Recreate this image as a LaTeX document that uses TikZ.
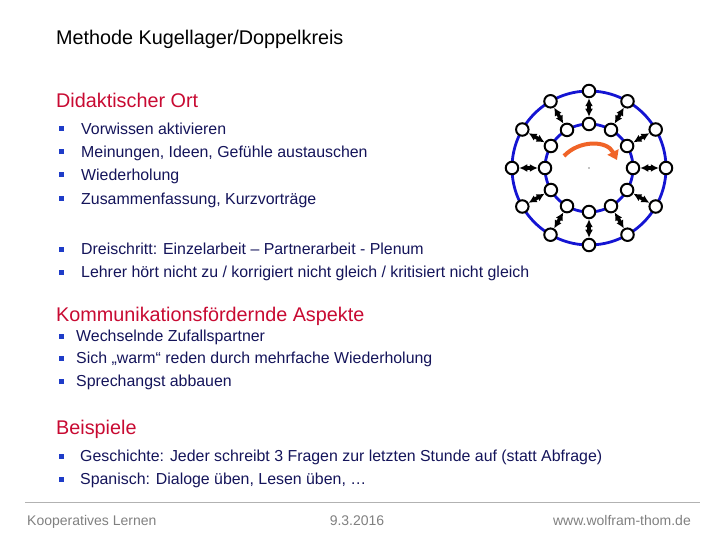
\documentclass[tikz,border=0pt]{standalone}
\usepackage{fontspec}
\setmainfont{Liberation Sans}
\usetikzlibrary{arrows.meta,calc}
\definecolor{navy}{RGB}{20,20,90}
\definecolor{head}{RGB}{200,10,50}
\definecolor{bul}{RGB}{30,60,200}
\definecolor{ora}{RGB}{240,100,40}
\definecolor{ring}{RGB}{20,20,210}
\begin{document}
\begin{tikzpicture}[x=1pt,y=-1pt,
  txt/.style={anchor=base west,inner sep=0,text=navy,font=\fontsize{15.9}{18}\selectfont},
  hd/.style={anchor=base west,inner sep=0,text=head,font=\fontsize{19.8}{22}\selectfont},
  ft/.style={inner sep=0,text=gray,font=\fontsize{14}{16}\selectfont},
  bl/.style={fill=bul,minimum size=5pt,inner sep=0},
  pers/.style={circle,draw=black,fill=white,line width=2pt,minimum size=12.5pt,inner sep=0},
  pair/.style={{Latex[length=8pt,width=8pt]}-{Latex[length=8pt,width=8pt]},line width=3.5pt,shorten <=0pt,shorten >=0pt}]
\useasboundingbox (0,0) rectangle (720,540);
\node[anchor=base west,inner sep=0,font=\fontsize{19.8}{22}\selectfont] (t) at (56,45) {Methode Kugellager/Doppelkreis};
\node[hd] (h1) at (56,108) {Didaktischer Ort};
\foreach \y/\s [count=\i] in {129/Vorwissen aktivieren,152/{Meinungen, Ideen, Gefühle  austauschen},175/Wiederholung,199/{Zusammenfassung, Kurzvorträge},249/{Dreischritt: Einzelarbeit – Partnerarbeit - Plenum},272/{Lehrer hört nicht zu / korrigiert nicht gleich / kritisiert nicht gleich}}{
  \node[bl] (ba\i) at (61,\y) {};
  \node[txt] (la\i) at (81,\y+5.5) {\s};}
\node[hd] (h2) at (56,321) {Kommunikationsfördernde Aspekte};
\foreach \y/\s [count=\i] in {336/Wechselnde Zufallspartner,358/{Sich „warm“ reden durch mehrfache Wiederholung},381/Sprechangst abbauen}{
  \node[bl] (bb\i) at (61,\y) {};
  \node[txt] (lb\i) at (76,\y+5.5) {\s};}
\node[hd] (h3) at (56,434) {Beispiele};
\foreach \y/\s [count=\i] in {456/{Geschichte: Jeder schreibt 3 Fragen zur letzten Stunde auf (statt Abfrage)},479/{Spanisch: Dialoge üben, Lesen üben, …}}{
  \node[bl] (bc\i) at (61,\y) {};
  \node[txt] (lc\i) at (80,\y+5.5) {\s};}
\draw[gray!60,line width=1pt] (25,502) -- (700,502);
\node[ft,anchor=base west] (f1) at (27,525) {Kooperatives Lernen};
\node[ft,anchor=base] (f2) at (357,525) {9.3.2016};
\node[ft,anchor=base east] (f3) at (691,525) {www.wolfram-thom.de};
% diagram
\coordinate (c) at (589,168);
\draw[ring,line width=2.8pt] (c) circle (77);
\draw[ring,line width=2.8pt] (c) circle (44);
\fill (c) circle (0.7);
\foreach \k in {0,...,11}{
  \pgfmathsetmacro\a{90-30*\k}
  \node[pers] (o\k) at ($(c)+(\a:77)$) {};
  \node[pers] (i\k) at ($(c)+(\a:44)$) {};
  \draw[pair] (i\k) -- (o\k);
}
\draw[ora,line width=4pt,-{Triangle[length=9pt,width=12pt]}] ($(c)+(-25,-12)$) .. controls ($(c)+(-10,-28)$) and ($(c)+(18,-28)$) .. ($(c)+(28,-8)$);
\end{tikzpicture}
\end{document}
